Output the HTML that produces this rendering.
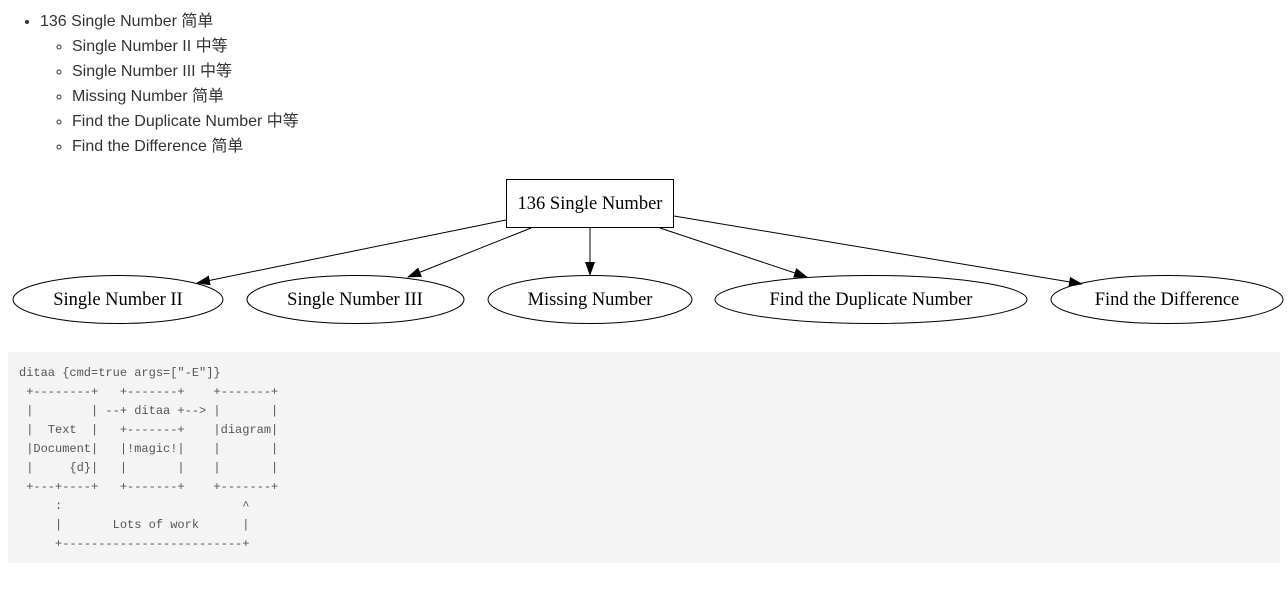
<!DOCTYPE html>
<html><head><meta charset="utf-8"><style>
body{margin:0;background:#fff;font-family:"Liberation Sans","Noto Sans CJK SC",sans-serif;color:#333;}
ul{margin:0;padding:0;}
.l1{position:absolute;left:24px;top:9px;font-size:16px;line-height:25px;}
.l1>li{list-style:disc;margin-left:16px;}
.l1 ul li{list-style:circle;margin-left:32px;}
pre{position:absolute;left:8px;top:352px;width:1272px;height:211px;margin:0;background:#f4f4f4;box-sizing:border-box;padding:12px 11px;font-family:"Liberation Mono",monospace;font-size:12px;line-height:19px;color:#555;}
svg{position:absolute;left:0;top:0;}
</style></head><body>
<ul class="l1"><li>136 Single Number 简单
<ul><li>Single Number II 中等</li><li>Single Number III 中等</li><li>Missing Number 简单</li><li>Find the Duplicate Number 中等</li><li>Find the Difference 简单</li></ul></li></ul>
<svg width="1288" height="600" font-family="Liberation Serif,serif" font-size="18.5" text-anchor="middle">
<defs><marker id="a" markerWidth="14" markerHeight="10" refX="13" refY="5" orient="auto" markerUnits="userSpaceOnUse"><path d="M0,0L14,5L0,10z" fill="#000"/></marker></defs>
<rect x="506.5" y="179.5" width="167" height="48" fill="none" stroke="#000"/>
<text x="590" y="209">136 Single Number</text>
<g stroke="#000" fill="none" marker-end="url(#a)">
<line x1="506" y1="220" x2="197" y2="283"/>
<line x1="531" y1="228" x2="408" y2="277"/>
<line x1="590" y1="228" x2="590" y2="275"/>
<line x1="660" y1="228" x2="807" y2="277"/>
<line x1="674" y1="216" x2="1082" y2="284"/>
</g>
<g fill="none" stroke="#000">
<ellipse cx="118" cy="299.5" rx="105" ry="24"/>
<ellipse cx="355.5" cy="299.5" rx="108.5" ry="24"/>
<ellipse cx="590" cy="299.5" rx="102" ry="24"/>
<ellipse cx="871" cy="299.5" rx="156" ry="24"/>
<ellipse cx="1167" cy="299.5" rx="116" ry="24"/>
</g>
<text x="118" y="305">Single Number II</text>
<text x="355" y="305">Single Number III</text>
<text x="590" y="305">Missing Number</text>
<text x="871" y="305">Find the Duplicate Number</text>
<text x="1167" y="305">Find the Difference</text>
</svg>
<pre>ditaa {cmd=true args=["-E"]}
 +--------+   +-------+    +-------+
 |        | --+ ditaa +--> |       |
 |  Text  |   +-------+    |diagram|
 |Document|   |!magic!|    |       |
 |     {d}|   |       |    |       |
 +---+----+   +-------+    +-------+
     :                         ^
     |       Lots of work      |
     +-------------------------+</pre>
</body></html>
